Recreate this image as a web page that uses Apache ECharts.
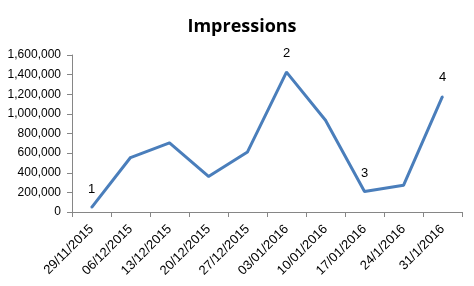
<!DOCTYPE html>
<html>
<head>
<meta charset="utf-8">
<script src="https://cdn.jsdelivr.net/npm/echarts@6/dist/echarts.min.js"></script>
<style>html,body{margin:0;padding:0;background:#fff}#c{width:474px;height:286px}</style>
</head>
<body>
<div id="c"></div>
<script>
const categories = ['29/11/2015','06/12/2015','13/12/2015','20/12/2015','27/12/2015','03/01/2016','10/01/2016','17/01/2016','24/1/2016','31/1/2016'];
const impressions = [45000, 555000, 705000, 362000, 612000, 1425000, 935000, 208000, 272000, 1178000];
const pointLabels = ['1','','','','','2','','3','','4'];
const yTicks = {min: 0, max: 1600000, interval: 200000};

const chart = echarts.init(document.getElementById('c'), null, {renderer: 'canvas'});
const font = 'Liberation Sans';
chart.setOption({
  animation: false,
  title: {
    text: 'Impressions', left: 237, top: 13, textAlign: 'center',
    textStyle: {fontFamily: 'Open Sans', fontWeight: 'bold', fontSize: 18, color: '#000'}
  },
  grid: {left: 72, right: 12, top: 55, bottom: 74, containLabel: false},
  xAxis: {
    type: 'category', data: categories, boundaryGap: true,
    axisLine: {lineStyle: {color: '#868686', width: 1}},
    axisTick: {show: true, length: 5, lineStyle: {color: '#868686'}},
    axisLabel: {rotate: 45, fontFamily: font, fontSize: 13, color: '#000', margin: 15, interval: 0}
  },
  yAxis: {
    type: 'value', min: yTicks.min, max: yTicks.max, interval: yTicks.interval,
    axisLine: {show: true, lineStyle: {color: '#868686', width: 1}},
    axisTick: {show: true, length: 5, lineStyle: {color: '#868686'}},
    splitLine: {show: false},
    axisLabel: {fontFamily: font, fontSize: 12, color: '#000', margin: 11,
      formatter: v => v.toLocaleString('en-US')}
  },
  series: [{
    type: 'line',
    data: impressions.map((v, i) => ({
      value: v,
      label: {show: pointLabels[i] !== '', formatter: pointLabels[i]}
    })),
    showSymbol: true, showAllSymbol: true, symbol: 'circle', symbolSize: 2,
    itemStyle: {color: '#4A7EBB'},
    lineStyle: {color: '#4A7EBB', width: 3},
    label: {position: 'top', distance: 11, fontFamily: font, fontSize: 13, color: '#000'}
  }]
});
</script>
</body>
</html>
